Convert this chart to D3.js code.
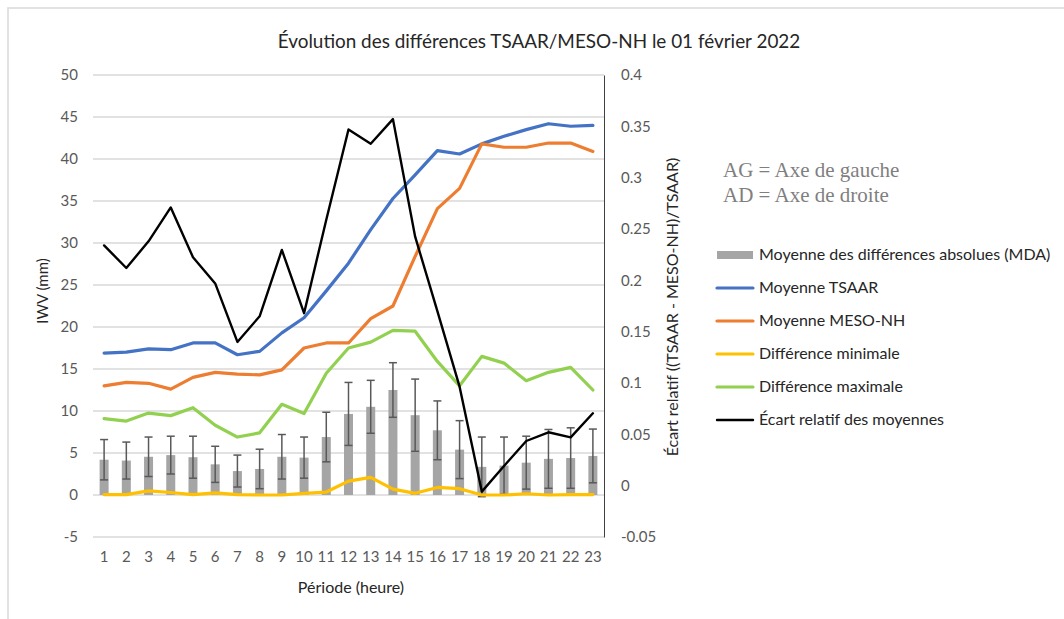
<!DOCTYPE html>
<html><head><meta charset="utf-8">
<script src="https://cdn.jsdelivr.net/npm/d3@7"></script>
<style>
html,body{margin:0;padding:0;background:#fff;}
svg{display:block;}
</style></head>
<body>
<svg id="chart" width="1064" height="619"></svg>
<script>
const hours = [1,2,3,4,5,6,7,8,9,10,11,12,13,14,15,16,17,18,19,20,21,22,23];
const leftTicks = [-5,0,5,10,15,20,25,30,35,40,45,50];
const rightTicks = [-0.05,0,0.05,0.1,0.15,0.2,0.25,0.3,0.35,0.4];
const mda = [4.2,4.1,4.55,4.75,4.5,3.65,2.85,3.1,4.55,4.45,6.9,9.65,10.5,12.5,9.5,7.7,5.4,3.35,3.5,3.85,4.3,4.4,4.65];
const mdaErr = [2.4,2.2,2.35,2.25,2.5,2.15,1.9,2.35,2.65,2.45,2.95,3.75,3.15,3.25,4.3,3.5,3.45,3.55,3.4,3.15,3.5,3.6,3.2];
const tsaar = [16.9,17.0,17.4,17.3,18.1,18.1,16.7,17.1,19.3,21.1,24.3,27.6,31.6,35.3,38.1,41.0,40.6,41.8,42.7,43.5,44.2,43.9,44.0];
const mesonh = [13.0,13.4,13.3,12.6,14.0,14.6,14.4,14.3,14.9,17.5,18.1,18.1,21.0,22.5,28.4,34.1,36.5,41.8,41.4,41.4,41.9,41.9,40.9];
const diffMin = [0.05,0.05,0.5,0.3,0.05,0.25,0.05,0.0,0.0,0.2,0.35,1.65,2.1,0.7,0.2,0.9,0.75,0.0,0.0,0.15,0.0,0.05,0.05];
const diffMax = [9.1,8.8,9.75,9.45,10.4,8.3,6.9,7.4,10.8,9.7,14.5,17.5,18.2,19.6,19.5,15.9,13.0,16.5,15.7,13.6,14.6,15.2,12.5];
const ecart = [0.234,0.212,0.238,0.271,0.2225,0.197,0.140,0.165,0.2296,0.168,0.259,0.347,0.333,0.357,0.2425,0.170,0.0964,-0.0058,0.0192,0.0435,0.052,0.0471,0.0705];

const legendLabels = ["Moyenne des différences absolues (MDA)","Moyenne TSAAR","Moyenne MESO-NH","Différence minimale","Différence maximale","Écart relatif des moyennes"];
const colors = {bar:"#a5a5a5", tsaar:"#4472c4", meso:"#ed7d31", min:"#ffc000", max:"#92d050", ecart:"#000000"};

const svg = d3.select("#chart");
const font = "Lato, 'Open Sans', sans-serif";
const plot = {left:93, right:604, top:75, bottom:537};

// outer chart border
svg.append("path").attr("d","M8,619 L8,8 L1064,8").attr("fill","none").attr("stroke","#d9d9d9").attr("stroke-width",1.5);

const x = d3.scaleBand().domain(hours).range([plot.left, plot.right]).padding(0);
const yL = d3.scaleLinear().domain([-5,50]).range([plot.bottom, plot.top]);
const yR = d3.scaleLinear().domain([-0.05,0.4]).range([plot.bottom, plot.top]);
const cx = h => x(h) + x.bandwidth()/2;

// gridlines
svg.append("g").selectAll("line").data(leftTicks).join("line")
  .attr("x1",plot.left).attr("x2",plot.right)
  .attr("y1",d=>yL(d)).attr("y2",d=>yL(d))
  .attr("stroke","#d9d9d9").attr("stroke-width",1.3);

// left axis labels
const gL = svg.append("g").attr("transform",`translate(${plot.left},0)`)
  .call(d3.axisLeft(yL).tickValues(leftTicks).tickSize(0).tickPadding(15).tickFormat(d=>String(d)));
gL.select(".domain").remove();
gL.selectAll("text").attr("font-family",font).attr("font-size",15).attr("fill","#595959");

// right axis
const gR = svg.append("g").attr("transform",`translate(${plot.right},0)`)
  .call(d3.axisRight(yR).tickValues(rightTicks).tickSize(0).tickPadding(17).tickFormat(d => String(+d.toFixed(2))));
gR.select(".domain").attr("stroke","#404040").attr("stroke-width",1);
gR.selectAll("text").attr("font-family",font).attr("font-size",15).attr("fill","#595959");

// x axis labels
const gX = svg.append("g").attr("transform",`translate(0,${plot.bottom})`)
  .call(d3.axisBottom(x).tickSize(0).tickPadding(14));
gX.select(".domain").remove();
gX.selectAll("text").attr("font-family",font).attr("font-size",15).attr("fill","#595959");

// bars
const barW = 9;
svg.append("g").selectAll("rect").data(hours).join("rect")
  .attr("x",(h)=>cx(h)-barW/2).attr("width",barW)
  .attr("y",(h,i)=>yL(Math.max(mda[i],0))).attr("height",(h,i)=>Math.abs(yL(mda[i])-yL(0)))
  .attr("fill",colors.bar);

// error bars
const eg = svg.append("g").attr("stroke","#595959").attr("stroke-width",1.5);
hours.forEach((h,i)=>{
  const xc = cx(h), hi = yL(mda[i]+mdaErr[i]), lo = yL(mda[i]-mdaErr[i]);
  eg.append("line").attr("x1",xc).attr("x2",xc).attr("y1",hi).attr("y2",lo);
  eg.append("line").attr("x1",xc-4).attr("x2",xc+4).attr("y1",hi).attr("y2",hi);
  eg.append("line").attr("x1",xc-4).attr("x2",xc+4).attr("y1",lo).attr("y2",lo);
});

function drawLine(vals, scale, color, w){
  const line = d3.line().x((d,i)=>cx(hours[i])).y(d=>scale(d));
  svg.append("path").datum(vals).attr("d",line).attr("fill","none")
    .attr("stroke",color).attr("stroke-width",w).attr("stroke-linejoin","round").attr("stroke-linecap","round");
}
drawLine(tsaar, yL, colors.tsaar, 3.2);
drawLine(mesonh, yL, colors.meso, 3.2);
drawLine(diffMin, yL, colors.min, 3.2);
drawLine(diffMax, yL, colors.max, 3.2);
drawLine(ecart, yR, colors.ecart, 2.4);

// title
svg.append("text").attr("x",539).attr("y",48).attr("text-anchor","middle")
  .attr("font-family",font).attr("font-size",18.9).attr("fill","#262626")
  .text("Évolution des différences TSAAR/MESO-NH le 01 février 2022");

// axis titles
svg.append("text").attr("transform","translate(48,291) rotate(-90)").attr("text-anchor","middle")
  .attr("font-family",font).attr("font-size",15).attr("fill","#262626").text("IWV (mm)");
svg.append("text").attr("transform","translate(678,307) rotate(-90)").attr("text-anchor","middle")
  .attr("font-family",font).attr("font-size",16).attr("fill","#262626").text("Écart relatif ((TSAAR - MESO-NH)/TSAAR)");
svg.append("text").attr("x",351).attr("y",593).attr("text-anchor","middle")
  .attr("font-family",font).attr("font-size",16).attr("fill","#262626").text("Période (heure)");

// annotation
const ann = ["AG = Axe de gauche","AD = Axe de droite"];
svg.append("g").selectAll("text").data(ann).join("text")
  .attr("x",723).attr("y",(d,i)=>177+i*25)
  .attr("font-family","'Liberation Serif', 'DejaVu Serif', serif").attr("font-size",21).attr("fill","#7f7f7f")
  .text(d=>d);

// legend
const legColors = [colors.bar, colors.tsaar, colors.meso, colors.min, colors.max, colors.ecart];
const lg = svg.append("g");
legendLabels.forEach((lab,i)=>{
  const yy = 255 + i*33;
  if(i===0){
    lg.append("rect").attr("x",717).attr("y",yy-4).attr("width",36).attr("height",8).attr("fill",legColors[i]);
  } else {
    lg.append("line").attr("x1",717).attr("x2",753).attr("y1",yy).attr("y2",yy)
      .attr("stroke",legColors[i]).attr("stroke-width",i===5?2.4:3.2).attr("stroke-linecap","round");
  }
  lg.append("text").attr("x",759).attr("y",yy+5).attr("font-family",font).attr("font-size",16)
    .attr("fill","#262626").text(lab);
});
</script>
</body></html>
